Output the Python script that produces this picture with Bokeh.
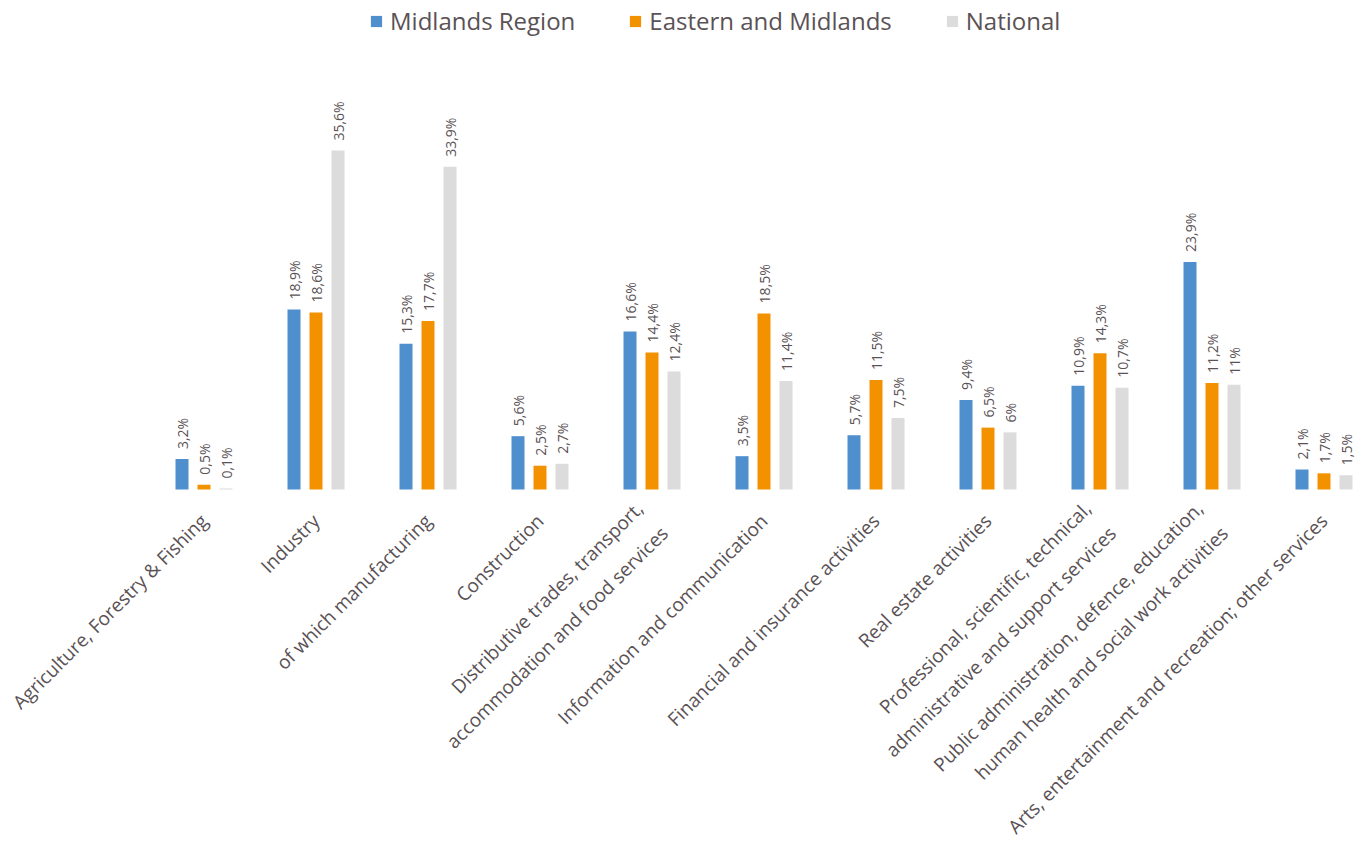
import numpy as np
from bokeh.plotting import figure
from bokeh.models import ColumnDataSource, Range1d, Legend, LegendItem
from bokeh.core.properties import value
from bokeh.embed import file_html
from bokeh.resources import INLINE

categories = [
    "Agriculture, Forestry & Fishing",
    "Industry",
    "of which manufacturing",
    "Construction",
    "Distributive trades, transport,\naccommodation and food services",
    "Information and communication",
    "Financial and insurance activities",
    "Real estate activities",
    "Professional, scientific, technical,\nadministrative and support services",
    "Public administration, defence, education,\nhuman health and social work activities",
    "Arts, entertainment and recreation; other services",
]
series_names = ["Midlands Region", "Eastern and Midlands", "National"]
midlands = [3.2, 18.9, 15.3, 5.6, 16.6, 3.5, 5.7, 9.4, 10.9, 23.9, 2.1]
eastern = [0.5, 18.6, 17.7, 2.5, 14.4, 18.5, 11.5, 6.5, 14.3, 11.2, 1.7]
national = [0.1, 35.6, 33.9, 2.7, 12.4, 11.4, 7.5, 6.0, 10.7, 11.0, 1.5]

colors = ["#4f8fcd", "#f39200", "#dcdcdc"]
text_color = "#5a5255"
FONT = "Open Sans"

PX_PER_UNIT_X = 112.0
PX_PER_UNIT_Y = 9.52
W, H = 1355, 842

x0 = -203.5 / PX_PER_UNIT_X
x_range = Range1d(x0, x0 + W / PX_PER_UNIT_X)
y_top = 489 / PX_PER_UNIT_Y
y_range = Range1d(y_top - H / PX_PER_UNIT_Y, y_top)

p = figure(width=W, height=H, x_range=x_range, y_range=y_range,
           x_axis_location=None, y_axis_location=None,
           toolbar_location=None, output_backend="svg", min_border=0,
           outline_line_color=None)
p.grid.visible = False

idx = np.arange(len(categories))
bar_w = 13 / PX_PER_UNIT_X
offsets = [-22 / PX_PER_UNIT_X, 0.0, 22 / PX_PER_UNIT_X]
label_gap = 10 / PX_PER_UNIT_Y

def fmt(v):
    return f"{v:g}".replace(".", ",") + "%"

renderers = []
for vals, col, off, name in zip([midlands, eastern, national], colors, offsets, series_names):
    src = ColumnDataSource(dict(
        x=idx + off,
        top=vals,
        ly=[v + label_gap for v in vals],
        lab=[fmt(v) for v in vals],
    ))
    r = p.vbar(x="x", top="top", bottom=0, width=bar_w, source=src,
               fill_color=col, line_color=None)
    renderers.append(r)
    p.text(x="x", y="ly", text="lab", source=src, angle=np.pi / 2,
           text_align="left", text_baseline="middle",
           text_font=value(FONT), text_font_size="14px", text_color=text_color)

cat_src = ColumnDataSource(dict(
    x=idx + 0 / PX_PER_UNIT_X,
    y=[-28 / PX_PER_UNIT_Y] * len(categories),
    t=categories,
))
p.text(x="x", y="y", text="t", source=cat_src, angle=np.pi / 4,
       text_align="right", text_baseline="middle", text_line_height=1.35,
       text_font=value(FONT), text_font_size="19px", text_color=text_color)

legend = Legend(items=[LegendItem(label=n, renderers=[r]) for n, r in zip(series_names, renderers)],
                orientation="horizontal", location=(369, H - 37),
                glyph_width=14, glyph_height=14, label_standoff=7, spacing=53,
                padding=0, margin=0, border_line_color=None, background_fill_alpha=0,
                label_text_font=FONT, label_text_font_size="24px", label_text_color=text_color)
p.add_layout(legend)

open("out.html", "w").write(file_html(p, INLINE))
